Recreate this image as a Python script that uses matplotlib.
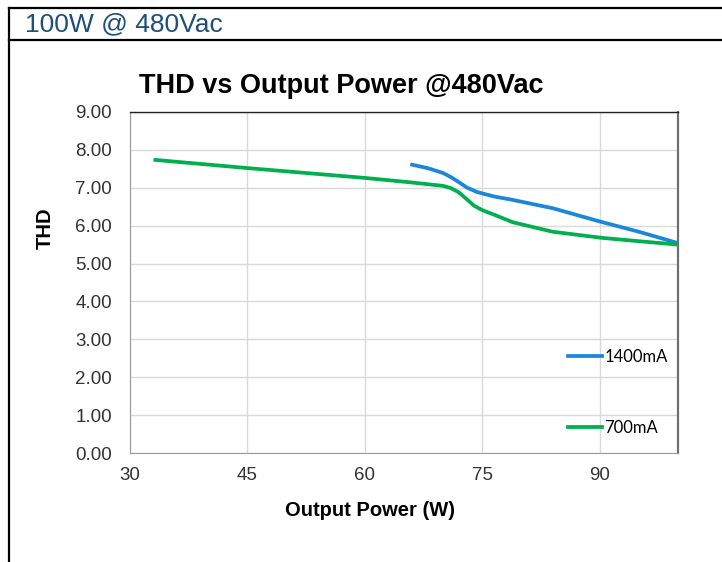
import matplotlib
matplotlib.use("Agg")
import matplotlib.pyplot as plt
from matplotlib.lines import Line2D

# data
p_1400 = [65.8, 68.0, 70.0, 71.0, 72.0, 73.0, 74.3, 76.5, 78.9, 84.0, 90.2, 95.0, 100.0]
thd_1400 = [7.62, 7.52, 7.39, 7.28, 7.15, 7.01, 6.89, 6.77, 6.68, 6.46, 6.10, 5.84, 5.54]

p_700 = [33.0, 45.0, 60.0, 66.0, 70.0, 71.0, 72.0, 73.0, 74.0, 75.0, 76.5,
         78.9, 84.0, 90.2, 95.0, 100.0]
thd_700 = [7.74, 7.52, 7.26, 7.14, 7.05, 6.99, 6.88, 6.70, 6.52, 6.41, 6.29,
           6.09, 5.84, 5.68, 5.59, 5.50]

xticks = [30, 45, 60, 75, 90]
yticks = [0, 1, 2, 3, 4, 5, 6, 7, 8, 9]

blue = "#1a86dc"
green = "#00b050"

fig = plt.figure(figsize=(7.22, 5.62), dpi=100)
ax = fig.add_axes([130 / 722, 1 - 453 / 562, 548 / 722, 341 / 562])

ax.plot(p_1400, thd_1400, color=blue, lw=2.7, solid_capstyle="butt",
        solid_joinstyle="round")
ax.plot(p_700, thd_700, color=green, lw=2.7, solid_capstyle="butt",
        solid_joinstyle="round")

ax.set_xlim(30, 100)
ax.set_ylim(0, 9)
ax.set_xticks(xticks)
ax.set_yticks(yticks)
ax.set_yticklabels([f"{v:.2f}" for v in yticks])
ax.grid(True, color="#d9d9d9", lw=1)
ax.set_axisbelow(True)
ax.tick_params(length=0, labelsize=13.5, colors="#333333")
ax.tick_params(axis="y", pad=13)
ax.tick_params(axis="x", pad=10)
for lab in ax.get_xticklabels() + ax.get_yticklabels():
    lab.set_family("Liberation Sans")

ax.spines["left"].set_color("#9a9a9a")
ax.spines["bottom"].set_color("#9a9a9a")
ax.spines["top"].set_color("#222222")
ax.spines["top"].set_linewidth(1.0)
ax.spines["right"].set_color("#707070")
ax.spines["right"].set_linewidth(1.6)

# legend entries drawn as two separate legends at their spots
leg1 = ax.legend([Line2D([], [], color=blue, lw=2.7)], ["1400mA"],
                 loc="center left", bbox_to_anchor=(560 / 722, 1 - 357 / 562),
                 bbox_transform=fig.transFigure, frameon=False,
                 handlelength=2.0, handletextpad=0.15, borderpad=0,
                 prop={"family": "Lato", "size": 12})
ax.add_artist(leg1)
ax.legend([Line2D([], [], color=green, lw=2.7)], ["700mA"],
          loc="center left", bbox_to_anchor=(560 / 722, 1 - 428 / 562),
          bbox_transform=fig.transFigure, frameon=False,
          handlelength=2.0, handletextpad=0.15, borderpad=0,
          prop={"family": "Lato", "size": 12})

fig.text(341 / 722, 1 - 86 / 562, "THD vs Output Power @480Vac",
         ha="center", va="center", fontsize=19.5, fontweight="bold",
         family="Liberation Sans")
fig.text(370 / 722, 1 - 510 / 562, "Output Power (W)", ha="center", va="center",
         fontsize=14.5, fontweight="bold", family="Liberation Sans")
fig.text(45 / 722, 1 - 228 / 562, "THD", ha="center", va="center", rotation=90,
         fontsize=14.5, fontweight="bold", family="Liberation Sans")

# header box
fig.add_artist(Line2D([9 / 722, 1], [1 - 8 / 562] * 2, color="black", lw=1.6,
                      transform=fig.transFigure))
fig.add_artist(Line2D([9 / 722, 1], [1 - 40 / 562] * 2, color="black", lw=1.6,
                      transform=fig.transFigure))
fig.add_artist(Line2D([9 / 722] * 2, [0, 1 - 8 / 562], color="black", lw=1.6,
                      transform=fig.transFigure))
fig.text(25 / 722, 1 - 24 / 562, "100W @ 480Vac", ha="left", va="center",
         fontsize=19, color="#1f4e79", family="Liberation Sans")

fig.savefig("out.png", dpi=100)
